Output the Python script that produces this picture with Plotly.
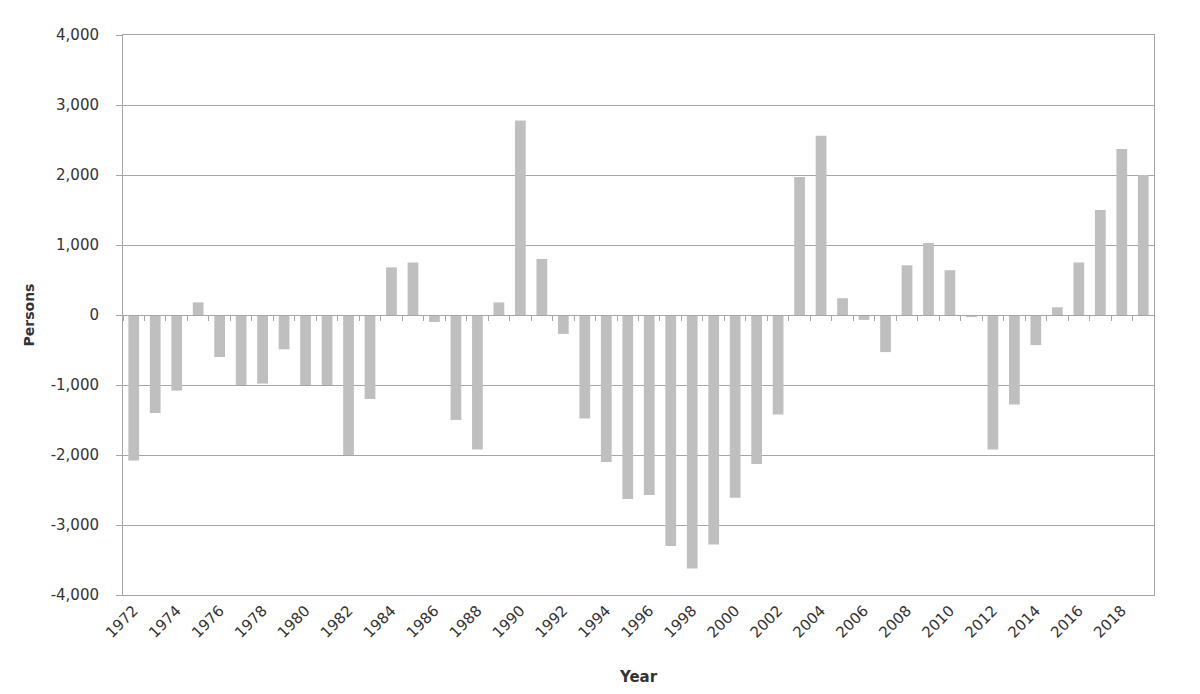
import plotly.graph_objects as go

years = list(range(1972, 2020))
persons = [
    -2080, -1400, -1080, 180, -600, -1000, -980, -490, -1000, -1000,
    -2000, -1200, 680, 750, -100, -1500, -1920, 180, 2780, 800,
    -270, -1480, -2100, -2630, -2570, -3300, -3620, -3280, -2610, -2130,
    -1420, 1970, 2560, 240, -70, -530, 710, 1030, 640, -30,
    -1920, -1280, -430, 110, 750, 1500, 2370, 2000,
]
label_years = years[::2]
y_ticks = [-4000, -3000, -2000, -1000, 0, 1000, 2000, 3000, 4000]

AXIS_GREY = '#A6A6A6'
TEXT = '#333333'
FONT = 'DejaVu Sans, Verdana, sans-serif'

fig = go.Figure()

fig.add_trace(go.Bar(
    x=years,
    y=persons,
    width=0.5,
    marker=dict(color='#BFBFBF', line=dict(width=0)),
    hovertemplate='%{x}: %{y:,}<extra></extra>',
))

# invisible trace so the zero-line axis (Excel style tick marks) is drawn
fig.add_trace(go.Scatter(
    x=[years[0], years[-1]], y=[0, 0], xaxis='x2',
    mode='lines', line=dict(width=0), hoverinfo='skip', showlegend=False,
))

x_range = [years[0] - 0.5, years[-1] + 0.5]
boundaries = [y - 0.5 for y in years] + [years[-1] + 0.5]

# page body has an 8px margin, so the margins are shifted to compensate
fig.update_layout(
    width=1200,
    height=694,
    paper_bgcolor='white',
    plot_bgcolor='white',
    font=dict(family=FONT, size=14, color=TEXT),
    margin=dict(l=115, r=54, t=27, b=107),
    showlegend=False,
    xaxis=dict(
        range=x_range,
        tickmode='array',
        tickvals=label_years,
        ticktext=[str(y) for y in label_years],
        tickangle=-45,
        ticks='',
        showgrid=False,
        showline=True,
        linecolor=AXIS_GREY,
        mirror=True,
        zeroline=False,
        tickfont=dict(size=15, color=TEXT),
        title=dict(text='<b>Year</b>', font=dict(size=15, color=TEXT), standoff=30),
    ),
    xaxis2=dict(
        overlaying='x',
        anchor='free',
        position=0.5,
        range=x_range,
        tickmode='array',
        tickvals=boundaries,
        ticks='outside',
        ticklen=5,
        tickcolor=AXIS_GREY,
        showticklabels=False,
        showline=True,
        linecolor=AXIS_GREY,
        linewidth=1,
        showgrid=False,
        zeroline=False,
    ),
    yaxis=dict(
        range=[-4000, 4000],
        tickmode='array',
        tickvals=y_ticks,
        ticktext=[f"{v:,}" for v in y_ticks],
        ticks='outside',
        ticklen=6,
        tickcolor=AXIS_GREY,
        ticklabelstandoff=14,
        showgrid=True,
        gridcolor=AXIS_GREY,
        gridwidth=1,
        showline=True,
        linecolor=AXIS_GREY,
        mirror=True,
        zeroline=False,
        tickfont=dict(size=15, color=TEXT),
        title=dict(text='<b>Persons</b>', font=dict(size=14, color=TEXT), standoff=12),
    ),
)

fig.write_html("out.html")
